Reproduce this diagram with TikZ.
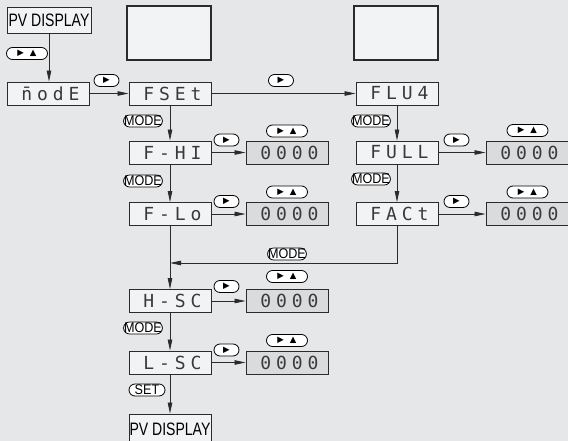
\documentclass[tikz,border=0pt]{standalone}
\usepackage{fontspec}
\setmainfont{Liberation Sans}
\newfontfamily\segfont[LetterSpace=27]{DejaVu Sans Mono}
\newfontfamily\condfont[FakeStretch=0.78]{Liberation Sans}
\newfontfamily\keyfont[FakeStretch=0.9]{Liberation Sans}
\newfontfamily\symfont{DejaVu Sans}
\usetikzlibrary{arrows.meta,shadows}
\definecolor{bg}{HTML}{E6E7E9}
\definecolor{boxfill}{HTML}{F2F3F5}
\definecolor{valfill}{HTML}{DADBDD}
\definecolor{ln}{HTML}{2B2B2B}
\definecolor{segc}{HTML}{3A3A3A}
\tikzset{
  fbox/.style={draw=ln, line width=0.9pt, fill=boxfill, minimum width=82pt, minimum height=23pt,
    inner sep=0pt, text=segc, font=\segfont\fontsize{18}{18}\selectfont},
  vbox/.style={fbox, fill=valfill},
  ebox/.style={draw=ln, line width=1.1pt, fill=boxfill, minimum width=84pt, minimum height=54pt,
    inner sep=0pt, drop shadow={shadow xshift=1pt, shadow yshift=-1pt, fill=black!45, opacity=1}},
  pvbox/.style={draw=ln, line width=0.9pt, fill=boxfill, minimum width=84pt, minimum height=26pt,
    inner sep=0pt, font=\condfont\fontsize{18}{18}\selectfont},
  btn/.style={draw=black, line width=0.8pt, fill=white, rounded corners=6pt, minimum height=12pt,
    inner sep=0pt, font=\symfont\fontsize{8.5}{8.5}\selectfont},
  rbtn/.style={btn, minimum width=25pt},
  rubtn/.style={btn, minimum width=41pt},
  kbtn/.style={btn, font=\keyfont\fontsize{14}{14}\selectfont, inner xsep=0.5pt},
  conn/.style={draw=ln, line width=0.8pt},
  arr/.style={conn, -{Triangle[length=11pt,width=4.5pt]}},
}
\newcommand{\rt}{▶}
\newcommand{\rtup}{▶\hspace{6pt}▲}
\newcommand{\sg}[1]{\hspace{4.9pt}#1}
\begin{document}
\begin{tikzpicture}[x=1pt,y=-1pt]
\useasboundingbox (0,0) rectangle (568,441);
\clip (0,0) rectangle (568,441);
\fill[bg] (0,0) rectangle (568,441);

% top row
\node[pvbox] (pv1) at (49,20) {PV DISPLAY};
\node[ebox] (e1) at (169,33) {};
\node[ebox] (e2) at (396,33) {};

% function boxes
\node[fbox] (mode) at (48,93.5) {\sg{\=nodE}};
\node[fbox] (fset) at (170,93.5) {\sg{FSEt}};
\node[fbox] (flus) at (397,93.5) {\sg{FLU4}};
\node[fbox] (fhi) at (170,152.5) {\sg{F-HI}};
\node[fbox] (full) at (397,152.5) {\sg{FULL}};
\node[fbox] (flo) at (170,214) {\sg{F-Lo}};
\node[fbox] (fact) at (397,214) {\sg{FACt}};
\node[fbox] (hsc) at (170,301) {\sg{H-SC}};
\node[fbox] (lsc) at (170,362.5) {\sg{L-SC}};
\node[pvbox, minimum width=82pt, minimum height=30pt] (pv2) at (170,429) {PV DISPLAY};

% value boxes
\node[vbox] (fhiv) at (287,152.5) {\sg{0000}};
\node[vbox] (flov) at (287,214) {\sg{0000}};
\node[vbox] (fullv) at (527,152.5) {\sg{0000}};
\node[vbox] (factv) at (527,214) {\sg{0000}};
\node[vbox] (hscv) at (287,301) {\sg{0000}};
\node[vbox] (lscv) at (287,362.5) {\sg{0000}};

\coordinate (ret) at (170,263);

% connectors
\draw[arr] (pv1.south) -- (pv1.south |- mode.north);
\draw[arr] (mode) -- (fset);
\draw[arr] (fset) -- (flus);
\draw[arr] (fset) -- (fhi);
\draw[arr] (fhi) -- (flo);
\draw[arr] (flus) -- (full);
\draw[arr] (full) -- (fact);
\draw[arr] (fhi) -- (fhiv);
\draw[arr] (flo) -- (flov);
\draw[arr] (full) -- (fullv);
\draw[arr] (fact) -- (factv);
\draw[arr] (fact.south) |- (ret);
\draw[arr] (flo) -- (hsc);
\draw[arr] (hsc) -- (hscv);
\draw[arr] (hsc) -- (lsc);
\draw[arr] (lsc) -- (lscv);
\draw[arr] (lsc) -- (pv2);

% key labels
\node[rubtn] (k1) at (27,53.5) {\rtup};
\node[rbtn] (k2) at (106.5,80.5) {\rt};
\node[rbtn] (k3) at (281,80.5) {\rt};
\node[kbtn] (k4) at (143,121) {MODE};
\node[kbtn] (k5) at (143,181) {MODE};
\node[kbtn] (k6) at (371,121) {MODE};
\node[kbtn] (k7) at (371,179) {MODE};
\node[rbtn] (k8) at (226.5,140) {\rt};
\node[rubtn] (k9) at (287,131) {\rtup};
\node[rbtn] (k10) at (226.5,201.5) {\rt};
\node[rubtn] (k11) at (287,192) {\rtup};
\node[rbtn] (k12) at (456.5,140) {\rt};
\node[rubtn] (k13) at (527.5,130.5) {\rtup};
\node[rbtn] (k14) at (456.5,201.5) {\rt};
\node[rubtn] (k15) at (527.5,192) {\rtup};
\node[kbtn] (k16) at (287,254) {MODE};
\node[rbtn] (k17) at (226.5,286.5) {\rt};
\node[rubtn] (k18) at (287,276.5) {\rtup};
\node[kbtn] (k19) at (143,328) {MODE};
\node[rbtn] (k20) at (226.5,350) {\rt};
\node[rubtn] (k21) at (287,340.5) {\rtup};
\node[kbtn, minimum width=36pt] (k22) at (147,390) {SET};
\end{tikzpicture}
\end{document}
